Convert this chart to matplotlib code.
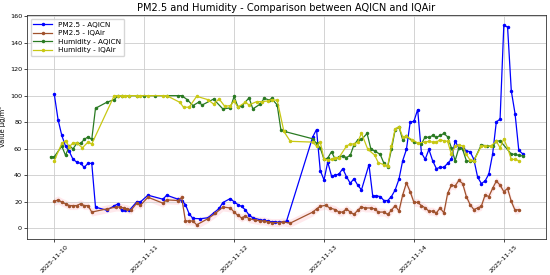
import matplotlib
matplotlib.use("Agg")
import matplotlib.pyplot as plt
import matplotlib.dates as mdates
import numpy as np
import pandas as pd

base = pd.Timestamp("2025-11-10 00:00")

# PM2.5 - AQICN (hours from base, value)
pm_aqicn_h = [0,1,2,3,4,5,6,7,8,9,10,11,14,16,17,18,19,20,22,23,25,29,30,33,34,35,36,37,39,41,42.5,44,45,47,48,49,50,51,52,53,55,56,57,58,59,60,62,
              69,70,71,72,73,74,75,76,77,78,79,80,81,82,84,85,86,87,88,89,90,91,92,93,94,95,96,97,98,99,100,101,102,103,104,105,106,107,108,109,110,111,112,113,114,115,116,117,118,119,120,121,122,123,124,125]
pm_aqicn_v = [101,82,70,62,58,52,50,49,46,49,49,16,13.7,17,18.5,13.5,13.5,13.5,20,20,25,22,25,22,21,18,11,7.5,7.3,8,11.5,15,19.5,22.5,20,18,16.5,14,10,8,6.5,6,5.5,5,5,4.5,5.5,
              69,74.5,43.6,36.5,50,39.5,40,41,45,39,34,37.4,32.6,29,48,24.5,24.5,24,21,21,24,29,37,51,59.5,80,80.7,89.5,57,52,59.5,51,45,46,46,49,52,65.6,60.7,60.7,58.3,57.8,52,38.7,33.8,35.7,41,55.8,80.3,82.2,153,151.7,103.5,86.4,58.7,56.3]

# PM2.5 - IQAir
pm_iqair_h = [0,1,2,3,4,5,6,7,8,9,10,14,16.5,17.5,18.5,19.5,20.5,22,23,25,29,30,33,34,35,36,37,38,41,43,45,47,48,49,50,51,52,53.5,55,56,57,58,60,61,63,
              69,70,71,72.5,73.5,75,76,77,78,79,80,81,82,83,84.5,85.5,86.5,88,89,90,91,92,93,94,95,96,97,98,99,100,101,102,103,104,105,106,107,108,109,110,111,112,113,114,115,116,117,118,119,120,121,122,123,124]
pm_iqair_v = [20.3,21.5,19.8,18.6,17.2,17.2,17.2,18.6,17.2,17.2,12.3,14.7,16.1,16.1,15.4,14.7,13.7,19,17.4,23.5,19,21.5,21,23.3,5.6,5.6,5.6,2.7,7.3,11.3,16.1,15.4,12.3,9.8,8,9.3,7.3,6.4,5.6,5.6,4.9,4.4,4.4,4.9,4,
              12.3,14.7,16.7,17.4,15.4,14.2,12.3,12.3,14.7,12.3,10.5,13.7,16.1,15.4,15.4,14.7,12.3,12.3,10.5,13.7,17.2,13,25.2,34.3,27.7,19.6,19.6,17.2,15.5,13,13,11.7,15.4,11.7,26.4,32.6,32,36.2,33.8,24,17.9,14.2,15.4,16.7,25.2,24,30.1,35.7,32.6,27.7,30.1,20.3,13.7,14.2]

# Humidity - AQICN
hum_aqicn_h = [-1,0,2,3,4,5,6,7,8,9,10,11,14,16,17,18,20,22,24,27,30,33,34,35.5,37,38.5,39.5,42.5,45,47,48,49,50,52,53,55,56,57.5,58,59.5,60.5,61.5,
               69,70,71,72,73,74,75,76,77,78,79,80,81,82,83.5,84.5,85.5,87,88,89,90,91,92,93,94,96,98,99,100,101,102,103,104,105,106,107,108,109,110,111,112,114,115.5,117,118,119,122,123,124,125]
hum_aqicn_v = [54,54,62,55,62,60,64,64,67,69,67,90.5,95,97,100,100,100,100,100,100,100,100,100,97,92.5,95,93,97.4,90,90.8,99.4,91.7,92,98.4,90,93.7,97.9,96.7,97.9,93,74,73,
               67.5,64,60.7,52,53,57.8,52,54,54.6,53.4,55,63,66.5,67,71.5,60,58.3,55.8,49,46.5,59.5,74.5,76.5,66.8,69.3,65,63.5,69,68.5,70,68.5,70,71.5,69,60.7,51,60.7,59.5,51,50.5,51,63,62,62,65.6,66,56,55.8,55,54.6]

# Humidity - IQAir
hum_iqair_h = [0,2,3,4,5,6,7.5,9,10,16,17,18,19,20,22,23,25,29,30,33.5,34.5,36,38,41,42.5,44,45.5,47,48,49,51,52,54,55.5,57,58,59.5,61.3,63,
               69,70,71,72,73,74,75,76,78,79,80,81,82,83.7,85.5,86.5,88,89,90,91,92,93,94,95.5,97,99,100,101,102,103,104,105,106,107,108,109,110,111,112,114,115,116.5,118,119,120,121,122,123,124]
hum_iqair_v = [51,64,66,61.5,64.4,64.4,60.7,65,63.6,100,100,100,100,100,100,100,100,100,100,95,91.3,91.3,99.5,97,93.7,97.5,92,92.5,96,91.3,95,93,95.5,95.5,96,97,96.5,73,65.6,
               65,62,65,52,51.5,52,53.4,53.4,62,63.6,63.6,65,71.7,59.5,55.3,49.5,48,47,62,75,76.6,69,69.3,66.8,64.4,65,65.6,65,65,66.8,66,65.6,55.8,62,63,62,55.8,51.4,51,62,62,62,65.6,60.7,67.5,60.7,52,52,51]


def to_dt(hours):
    return base + pd.to_timedelta(np.array(hours), unit="h")


fig = plt.figure(figsize=(5.5, 2.75), dpi=100)
ax = fig.add_axes([0.049, 0.131, 0.944, 0.814])

t_pa = to_dt(pm_aqicn_h)
t_pi = to_dt(pm_iqair_h)
t_ha = to_dt(hum_aqicn_h)
t_hi = to_dt(hum_iqair_h)
pi_v = np.array(pm_iqair_v)

lw = 0.9
ms = 1.5
ax.plot(t_pa, pm_aqicn_v, color="blue", marker="o", ms=ms, lw=lw, label="PM2.5 - AQICN")
ax.plot(t_pi, pm_iqair_v, color="sienna", marker="o", ms=ms, lw=lw, label="PM2.5 - IQAir")
ax.fill_between(t_pi, pi_v - 3, pi_v + 3, color="pink", alpha=0.35, lw=0)
ax.plot(t_ha, hum_aqicn_v, color="#2a7a22", marker="o", ms=ms, lw=lw, label="Humidity - AQICN")
ax.plot(t_hi, hum_iqair_v, color="#c8c814", marker="o", ms=ms, lw=lw, label="Humidity - IQAir")

ax.set_title("PM2.5 and Humidity - Comparison between AQICN and IQAir", fontsize=7.1, pad=3)
ax.set_ylabel("Value μg/m³", fontsize=4.9, labelpad=3)
ax.set_yticks([0, 20, 40, 60, 80, 100, 120, 140, 160])
ax.xaxis.set_major_locator(mdates.DayLocator())
ax.xaxis.set_major_formatter(mdates.DateFormatter("%Y-%m-%d"))
ax.tick_params(axis="both", labelsize=4.6, length=2, width=0.5, pad=1.5)
for lab in ax.get_xticklabels():
    lab.set_rotation(45)
    lab.set_ha("center")
ax.grid(True, color="#cccccc", lw=0.6)
for s in ax.spines.values():
    s.set_linewidth(0.6)
    s.set_color("#333333")
ax.legend(loc="upper left", fontsize=5.2, framealpha=0.8, handlelength=2.6, borderpad=0.4, labelspacing=0.35)

fig.savefig("out.png", dpi=100)
